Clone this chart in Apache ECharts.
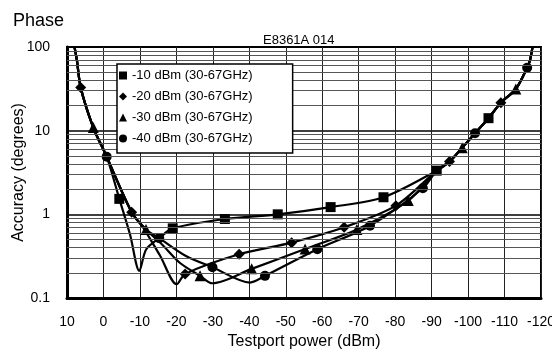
<!DOCTYPE html>
<html>
<head>
<meta charset="utf-8">
<script src="https://cdn.jsdelivr.net/npm/echarts@6/dist/echarts.min.js"></script>
<style>
  html, body { margin: 0; padding: 0; background: #fff; }
  #chart { width: 552px; height: 351px; }
</style>
</head>
<body>
<div id="chart"></div>
<script>
// legend names
const names = ['-10 dBm (30-67GHz)', '-20 dBm (30-67GHz)', '-30 dBm (30-67GHz)', '-40 dBm (30-67GHz)']
const symbols = ['rect', 'diamond', 'triangle', 'circle']

// shared parts of the curves [dBm, degrees]
const commonLeft = [[8.3, 120], [7.3, 70], [6.24, 32.7], [2.79, 10.9], [-0.88, 4.89]]
const commonRight = [[-91.4, 3.33], [-94.9, 4.27], [-98.4, 6.27], [-101.9, 9.3], [-105.6, 14.1], [-109, 21.6], [-113.1, 31.5], [-116.2, 56.6], [-117.0, 70], [-117.9, 115]]

// middle part of each curve
const pathSq = [[-4.35, 1.53], [-7.3, 0.57], [-9.83, 0.211], [-11.7, 0.38], [-15.3, 0.52], [-19, 0.68], [-33.3, 0.88], [-47.8, 1.0], [-62.3, 1.22], [-76.8, 1.6]]
const pathDi = [[-7.74, 1.06], [-10.85, 0.70], [-15.5, 0.322], [-20.1, 0.146], [-22.4, 0.194], [-37.2, 0.333], [-51.6, 0.459], [-66, 0.70], [-80.2, 1.27]]
const pathTr = [[-7.74, 1.06], [-11.67, 0.66], [-16, 0.44], [-21, 0.262], [-26.5, 0.184], [-29.9, 0.150], [-40.65, 0.223], [-55.3, 0.386], [-69.5, 0.66], [-83.6, 1.46]]
const pathCi = [[-7.74, 1.06], [-11.67, 0.66], [-15.3, 0.52], [-22.5, 0.32], [-29.9, 0.233], [-40.2, 0.153], [-44.3, 0.184], [-58.65, 0.383], [-73.1, 0.73], [-87.6, 2.05]]

// marker points
const markSq = [[-4.35, 1.53], [-19, 0.68], [-33.3, 0.88], [-47.8, 1.0], [-62.3, 1.22], [-76.8, 1.6], [-91.4, 3.33], [-105.6, 14.1]]
const markDi = [[6.24, 32.7], [-7.74, 1.06], [-22.4, 0.194], [-37.2, 0.333], [-51.6, 0.459], [-66, 0.70], [-80.2, 1.27], [-94.9, 4.27], [-109, 21.6]]
const markTr = [[2.79, 10.9], [-11.67, 0.66], [-26.5, 0.184], [-40.65, 0.223], [-55.3, 0.386], [-69.5, 0.66], [-83.6, 1.46], [-98.4, 6.27], [-113.1, 31.5]]
const markCi = [[-0.88, 4.89], [-15.3, 0.52], [-29.9, 0.233], [-44.3, 0.184], [-58.65, 0.383], [-73.1, 0.73], [-87.6, 2.05], [-101.9, 9.3], [-116.2, 56.6]]

// minor horizontal grid lines
const minorY = [0.2, 0.3, 0.4, 0.5, 0.6, 0.7, 0.8, 0.9, 2, 3, 4, 5, 6, 7, 8, 9, 20, 30, 40, 50, 60, 70, 80, 90]

const paths = [pathSq, pathDi, pathTr, pathCi]
const marks = [markSq, markDi, markTr, markCi]
const markSize = [10, 11, 11, 10]

const font = 'Liberation Sans, Arial, sans-serif'

const chart = echarts.init(document.getElementById('chart'))

const series = [
  {
    type: 'line',
    data: [],
    z: 1,
    silent: true,
    markLine: {
      silent: true,
      symbol: 'none',
      label: { show: false },
      lineStyle: { color: '#555', width: 1, type: 'solid' },
      data: minorY.map(v => ({ yAxis: v }))
    }
  }
]
names.forEach((n, i) => {
  series.push({
    name: n,
    type: 'line',
    smooth: 0.3,
    showSymbol: false,
    lineStyle: { color: '#000', width: 2.2 },
    itemStyle: { color: '#000' },
    data: commonLeft.concat(paths[i], commonRight),
    z: 3
  })
  series.push({
    name: n,
    type: 'scatter',
    symbol: symbols[i],
    symbolSize: markSize[i],
    itemStyle: { color: '#000', opacity: 1 },
    data: marks[i],
    z: 4
  })
})

chart.setOption({
  animation: false,
  title: [
    { text: 'Phase', left: 8, top: 7, textStyle: { fontFamily: font, fontSize: 18, fontWeight: 'normal', color: '#000' } },
    { text: 'E8361A 014', left: 258, top: 29, textStyle: { fontFamily: font, fontSize: 13, fontWeight: 'normal', color: '#000' } }
  ],
  legend: {
    orient: 'vertical',
    left: 117,
    top: 64,
    z: 20,
    padding: [5, 40, 8, 2],
    itemGap: 8,
    itemWidth: 8,
    itemHeight: 8,
    backgroundColor: '#fff',
    borderColor: '#000',
    borderWidth: 1.5,
    textStyle: { fontFamily: font, fontSize: 13, color: '#000' },
    data: names.map((n, i) => ({ name: n, icon: symbols[i] }))
  },
  grid: {
    left: 67, right: 11, top: 47, bottom: 53,
    outerBoundsMode: 'none',
    containLabel: false,
    show: true, borderColor: '#000', borderWidth: 2
  },
  xAxis: {
    type: 'value',
    inverse: true,
    min: -120,
    max: 10,
    interval: 10,
    name: 'Testport power (dBm)',
    nameLocation: 'middle',
    nameGap: 36,
    nameTextStyle: { fontFamily: font, fontSize: 16, color: '#000' },
    axisLine: { onZero: false, lineStyle: { color: '#000', width: 3 } },
    axisTick: { show: false },
    axisLabel: { fontFamily: font, fontSize: 14, color: '#000', margin: 17 },
    splitLine: { lineStyle: { color: '#222', width: 1 } }
  },
  yAxis: {
    type: 'log',
    logBase: 10,
    min: 0.1,
    max: 100,
    name: 'Accuracy (degrees)',
    nameLocation: 'middle',
    nameGap: 40,
    nameMoveOverlap: false,
    nameTextStyle: { fontFamily: font, fontSize: 16, color: '#000' },
    axisLine: { onZero: false, lineStyle: { color: '#000', width: 3 } },
    axisTick: { show: false },
    axisLabel: { fontFamily: font, fontSize: 14, color: '#000', margin: 17 },
    splitLine: { lineStyle: { color: '#000', width: 1.5 } }
  },
  series: series
})
</script>
</body>
</html>
